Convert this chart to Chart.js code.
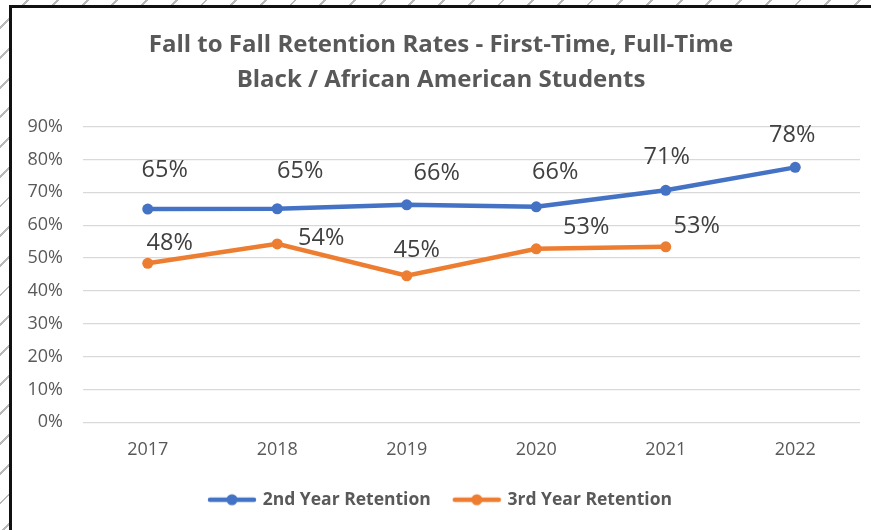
<!DOCTYPE html>
<html>
<head>
<meta charset="utf-8">
<script src="https://cdn.jsdelivr.net/npm/chart.js@4.4.0/dist/chart.umd.min.js"></script>
<style>
html, body { margin: 0; padding: 0; }
body {
    width: 871px; height: 530px; overflow: hidden;
    background: repeating-linear-gradient(135deg, #fff 0 19px, #b8b8b8 19px 21px);
}
#frame {
    position: absolute; left: 9px; top: 5px;
    width: 859px; height: 522px;
    border-left: 3px solid #111; border-top: 3px solid #111;
    background: #fff;
}
canvas { display: block; }
</style>
</head>
<body>
<div id="frame"><canvas id="chart" width="859" height="522"></canvas></div>
<script>
// data (percent)
var years = ['2017', '2018', '2019', '2020', '2021', '2022'];
var secondYear = [64.9, 65.0, 66.2, 65.6, 70.6, 77.6];
var thirdYear = [48.4, 54.3, 44.6, 52.8, 53.4, null];
var seriesNames = ['2nd Year Retention', '3rd Year Retention'];
var titleLines = ['Fall to Fall Retention Rates - First-Time, Full-Time', 'Black / African American Students'];
var yMin = 0, yMax = 90, yStep = 10;

var BLUE = '#4472C4';
var ORANGE = '#ED7D31';
var FONT = '"Open Sans", sans-serif';

// where each value label sits relative to its point (px)
var labelOffsets = [
    [[17, -39], [23, -37], [30, -31], [19, -34], [1, -33], [-3, -32]],
    [[22, -20], [44, -6], [10, -25], [50, -22], [31, -21]]
];

function legendMarker(color) {
    var c = document.createElement('canvas');
    c.width = 50;
    c.height = 14;
    var g = c.getContext('2d');
    g.strokeStyle = color;
    g.lineWidth = 4.5;
    g.lineCap = 'round';
    g.beginPath();
    g.moveTo(3, 7);
    g.lineTo(47, 7);
    g.stroke();
    g.fillStyle = color;
    g.beginPath();
    g.arc(25, 7, 5.5, 0, Math.PI * 2);
    g.fill();
    return c;
}
var markers = [legendMarker(BLUE), legendMarker(ORANGE)];

var valueLabels = {
    id: 'valueLabels',
    afterDatasetsDraw: function(chart) {
        var ctx = chart.ctx;
        ctx.save();
        ctx.font = '23.5px ' + FONT;
        ctx.fillStyle = '#404040';
        ctx.textAlign = 'center';
        ctx.textBaseline = 'middle';
        chart.data.datasets.forEach(function(ds, i) {
            var meta = chart.getDatasetMeta(i);
            meta.data.forEach(function(pt, j) {
                var v = ds.data[j];
                if (v === null || v === undefined) return;
                var off = labelOffsets[i][j];
                ctx.fillText(Math.round(v) + '%', pt.x + off[0], pt.y + off[1]);
            });
        });
        ctx.restore();
    }
};

function makeDataset(label, values, color) {
    return {
        label: label,
        data: values,
        borderColor: color,
        backgroundColor: color,
        borderWidth: 4.5,
        pointRadius: 5.5,
        pointHoverRadius: 5.5,
        pointBorderWidth: 0,
        pointBackgroundColor: color,
        tension: 0,
        spanGaps: false
    };
}

var ctx = document.getElementById('chart').getContext('2d');
var chart = new Chart(ctx, {
    type: 'line',
    data: {
        labels: years,
        datasets: [
            makeDataset(seriesNames[0], secondYear, BLUE),
            makeDataset(seriesNames[1], thirdYear, ORANGE)
        ]
    },
    plugins: [valueLabels],
    options: {
        responsive: false,
        animation: false,
        layout: { padding: { left: 10, right: 11, top: 0, bottom: 11.5 } },
        plugins: {
            title: {
                display: true,
                text: titleLines,
                color: '#595959',
                font: { family: FONT, size: 24, weight: 'bold', lineHeight: 1.45 },
                padding: { top: 20, bottom: 29 }
            },
            legend: {
                position: 'bottom',
                labels: {
                    usePointStyle: true,
                    pointStyleWidth: 44,
                    padding: 24,
                    color: '#595959',
                    font: { family: FONT, size: 17.5, weight: 'bold' },
                    generateLabels: function(c) {
                        var items = Chart.defaults.plugins.legend.labels.generateLabels(c);
                        items.forEach(function(it, i) { it.pointStyle = markers[i]; });
                        return items;
                    }
                }
            },
            tooltip: { enabled: false }
        },
        scales: {
            x: {
                offset: true,
                grid: { display: false, drawTicks: false },
                border: { display: false },
                ticks: { color: '#595959', padding: 17, font: { family: FONT, size: 18 } },
                afterFit: function(scale) { scale.height = 44.7; }
            },
            y: {
                min: yMin,
                max: yMax,
                grid: { color: '#d9d9d9', lineWidth: 1.3, drawTicks: false },
                border: { display: false },
                ticks: {
                    stepSize: yStep,
                    color: '#595959',
                    padding: 20,
                    font: { family: FONT, size: 18 },
                    callback: function(v) { return v + '%'; }
                },
                afterFit: function(scale) { scale.width = 61; }
            }
        }
    }
});
</script>
</body>
</html>
